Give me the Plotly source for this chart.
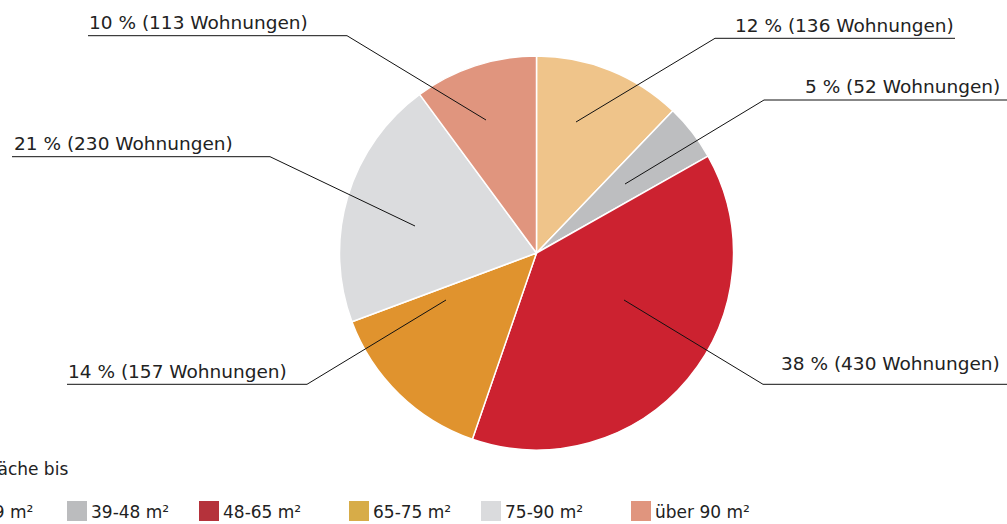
import plotly.graph_objects as go

W, H = 1007, 524

# ---- data ----
categories = ["bis 39 m²", "39-48 m²", "48-65 m²", "65-75 m²", "75-90 m²", "über 90 m²"]
wohnungen = [136, 52, 430, 157, 230, 113]
# pie order (clockwise from 12 o'clock)
pie_order = [0, 1, 2, 3, 4, 5]
slice_colors = ["#EFC48A", "#BDBEC0", "#CC2230", "#E0932E", "#DBDCDE", "#E0957E"]
legend_colors = ["#EFC48A", "#BBBCBE", "#B5323B", "#D7AC48", "#DADBDD", "#E0957E"]
legend_title = "Wohnfläche bis"

# ---- label layout (pixels): anchor inside slice, elbow, underline end, text pos ----
label_anchor = [(576, 122), (625, 184), (624, 300), (446, 300), (415, 226), (486, 120)]
label_elbow = [(715, 38.3), (764, 100), (763, 384.3), (307, 384.3), (270, 156.7), (347, 35.7)]
label_line_end = [955, 1007, 1007, 67, 12, 88]
label_text_x = [956, 1002, 1002, 66, 12, 87]
label_text_y = [25, 87, 363, 371, 143.5, 22.5]

FONT = "DejaVu Sans"


def px(x):
    return x / W


def py(y):
    return 1 - y / H


total = sum(wohnungen)

fig = go.Figure()
fig.add_trace(go.Pie(
    labels=[categories[i] for i in pie_order],
    values=[wohnungen[i] for i in pie_order],
    marker=dict(colors=[slice_colors[i] for i in pie_order], line=dict(color="white", width=1.5)),
    sort=False,
    direction="clockwise",
    rotation=0,
    textinfo="none",
    hoverinfo="label+value+percent",
    showlegend=False,
    domain=dict(x=[px(536.5 - 197), px(536.5 + 197)], y=[py(450), py(56)]),
))

shapes = []
annotations = []
for i in range(len(wohnungen)):
    ax, ay = label_anchor[i]
    ex, ey = label_elbow[i]
    shapes.append(dict(type="line", xref="paper", yref="paper",
                       x0=px(ax), y0=py(ay), x1=px(ex), y1=py(ey),
                       line=dict(color="#111111", width=1)))
    shapes.append(dict(type="line", xref="paper", yref="paper",
                       x0=px(ex), y0=py(ey), x1=px(label_line_end[i]), y1=py(ey),
                       line=dict(color="#111111", width=1)))
    pct = round(wohnungen[i] / total * 100)
    right = label_text_x[i] > 536
    annotations.append(dict(
        xref="paper", yref="paper", x=px(label_text_x[i]), y=py(label_text_y[i]),
        xanchor="right" if right else "left", yanchor="middle",
        text=f"{pct} % ({wohnungen[i]} Wohnungen)", showarrow=False,
        font=dict(family=FONT, size=18.5, color="#222222"),
    ))

# ---- manual legend ----
legend_swatch_x = [-65, 67, 199, 349, 481, 631]
annotations.append(dict(
    xref="paper", yref="paper", x=px(70), y=py(469), xanchor="right", yanchor="middle",
    text=legend_title, showarrow=False, font=dict(family=FONT, size=17, color="#222222")))
for i, cat in enumerate(categories):
    sx = legend_swatch_x[i]
    shapes.append(dict(type="rect", xref="paper", yref="paper",
                       x0=px(sx), x1=px(sx + 20), y0=py(521), y1=py(501),
                       fillcolor=legend_colors[i], line=dict(width=0)))
    if i == 0:
        annotations.append(dict(
            xref="paper", yref="paper", x=px(35), y=py(512), xanchor="right", yanchor="middle",
            text="39 m²", showarrow=False, font=dict(family=FONT, size=17, color="#222222")))
    else:
        annotations.append(dict(
            xref="paper", yref="paper", x=px(sx + 22), y=py(512), xanchor="left", yanchor="middle",
            text=cat, showarrow=False, font=dict(family=FONT, size=17, color="#222222")))

fig.update_layout(
    width=W, height=H,
    margin=dict(l=0, r=0, t=0, b=0),
    paper_bgcolor="white", plot_bgcolor="white",
    shapes=shapes, annotations=annotations,
    showlegend=False,
)

fig.write_html(
    "out.html",
    config={"displayModeBar": False},
    post_script="document.body.style.margin='0';document.body.style.overflow='hidden';",
)
